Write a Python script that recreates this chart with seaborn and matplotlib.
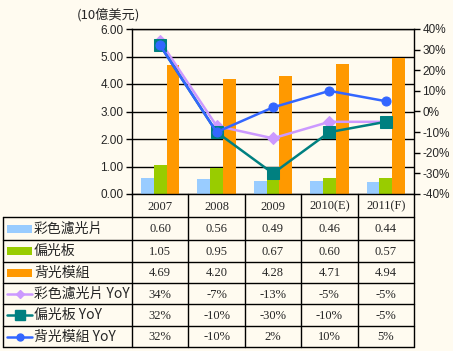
import numpy as np
import pandas as pd
import matplotlib.pyplot as plt
import seaborn as sns

years = ['2007', '2008', '2009', '2010(E)', '2011(F)']
color_filter = [0.60, 0.56, 0.49, 0.46, 0.44]
polarizer = [1.05, 0.95, 0.67, 0.60, 0.57]
backlight = [4.69, 4.20, 4.28, 4.71, 4.94]
color_filter_yoy = [34, -7, -13, -5, -5]
polarizer_yoy = [32, -10, -30, -10, -5]
backlight_yoy = [32, -10, 2, 10, 5]

bar_names = ['彩色濾光片', '偏光板', '背光模組']
line_names = ['彩色濾光片 YoY', '偏光板 YoY', '背光模組 YoY']
bar_colors = ['#99CCFF', '#99CC00', '#FF9900']
line_colors = ['#CC99FF', '#008080', '#3366FF']
line_markers = ['D', 's', 'o']
marker_sizes = [6, 8, 6.5]
key_marker_sizes = [4.5, 7, 5]

bars = pd.DataFrame({
    'year': years * 3,
    'series': np.repeat(bar_names, len(years)),
    'value': color_filter + polarizer + backlight,
})
yoy_lists = [color_filter_yoy, polarizer_yoy, backlight_yoy]

bg = '#FFFBF0'
cjk = ['Noto Sans CJK TC', 'DejaVu Sans']
W, H = 453, 351
L, R, T, B = 132, 414, 29, 194

sns.set_style('white')
fig = plt.figure(figsize=(W / 100, H / 100), dpi=100, facecolor=bg)
ax = fig.add_axes([L / W, 1 - B / H, (R - L) / W, (B - T) / H], facecolor=bg)

sns.barplot(data=bars, x='year', y='value', hue='series', hue_order=bar_names,
            palette=bar_colors, width=0.68, gap=0, saturation=1,
            linewidth=0, legend=False, ax=ax)
ax.set_xlim(-0.5, len(years) - 0.5)
ax.set_ylim(0, 6)
ax.set_yticks(np.arange(0, 7, 1))
ax.set_yticklabels([f'{v:.2f}' for v in np.arange(0, 7, 1)],
                   fontsize=8.5, family='Liberation Sans')
ax.set_xticks([])
ax.set_xlabel('')
ax.set_ylabel('')
ax.set_axisbelow(True)
ax.yaxis.grid(True, color='black', linewidth=1)
ax.tick_params(axis='y', direction='out', length=4, width=1, color='black', pad=2)
for s in ax.spines.values():
    s.set_color('black')
    s.set_linewidth(1)

ax2 = ax.twinx()
pos = np.arange(len(years))
for vals, c, m, ms in zip(yoy_lists, line_colors, line_markers, marker_sizes):
    sns.lineplot(x=pos, y=vals, color=c, marker=m, markersize=ms,
                 markeredgecolor=c, linewidth=1.8, ax=ax2)
ax2.set_ylim(-40, 40)
ax2.set_yticks(np.arange(-40, 41, 10))
ax2.set_yticklabels([f'{v}%' for v in np.arange(-40, 41, 10)],
                    fontsize=8.5, family='Liberation Sans')
ax2.tick_params(axis='y', direction='out', length=4, width=1, color='black', pad=2)
ax2.set_xlim(-0.5, len(years) - 0.5)
for s in ax2.spines.values():
    s.set_visible(False)

fig.text(108 / W, 1 - 15 / H, '(10億美元)', ha='center', va='center',
         fontsize=9.5, family=cjk)

# data table below the plot
tax = fig.add_axes([0, 0, 1, 1], facecolor='none')
tax.set_xlim(0, W)
tax.set_ylim(H, 0)
tax.axis('off')
col_w = (R - L) / len(years)
col_x = [L + col_w * i for i in range(len(years) + 1)]
row_y = [B, 217, 240, 262, 283, 304, 326, 347]
for x in col_x:
    tax.plot([x, x], [B, row_y[-1]], color='black', lw=1)
tax.plot([3, 3], [row_y[1], row_y[-1]], color='black', lw=1)
for y in row_y[1:]:
    tax.plot([3, R], [y, y], color='black', lw=1)

hy = (row_y[0] + row_y[1]) / 2
for i, yr in enumerate(years):
    tax.text(col_x[i] + col_w / 2, hy + 1, yr, ha='center', va='center',
             fontsize=9, family='Liberation Serif')

rows = [
    (bar_names[0], [f'{v:.2f}' for v in color_filter]),
    (bar_names[1], [f'{v:.2f}' for v in polarizer]),
    (bar_names[2], [f'{v:.2f}' for v in backlight]),
    (line_names[0], [f'{v}%' for v in color_filter_yoy]),
    (line_names[1], [f'{v}%' for v in polarizer_yoy]),
    (line_names[2], [f'{v}%' for v in backlight_yoy]),
]
for r, (name, cells) in enumerate(rows):
    cy = (row_y[r + 1] + row_y[r + 2]) / 2
    if r < 3:
        tax.add_patch(plt.Rectangle((7, cy - 4), 25, 8, color=bar_colors[r], lw=0))
    else:
        k = r - 3
        tax.plot([7, 32], [cy, cy], color=line_colors[k], lw=1.8)
        tax.plot([19.5], [cy], marker=line_markers[k], color=line_colors[k],
                 markersize=key_marker_sizes[k])
    tax.text(34, cy, name, ha='left', va='center', fontsize=10, family=cjk)
    for i, t in enumerate(cells):
        tax.text(col_x[i] + col_w / 2, cy + 1, t, ha='center', va='center',
                 fontsize=9, family='Liberation Serif')

fig.savefig('out.png', dpi=100, facecolor=bg)
